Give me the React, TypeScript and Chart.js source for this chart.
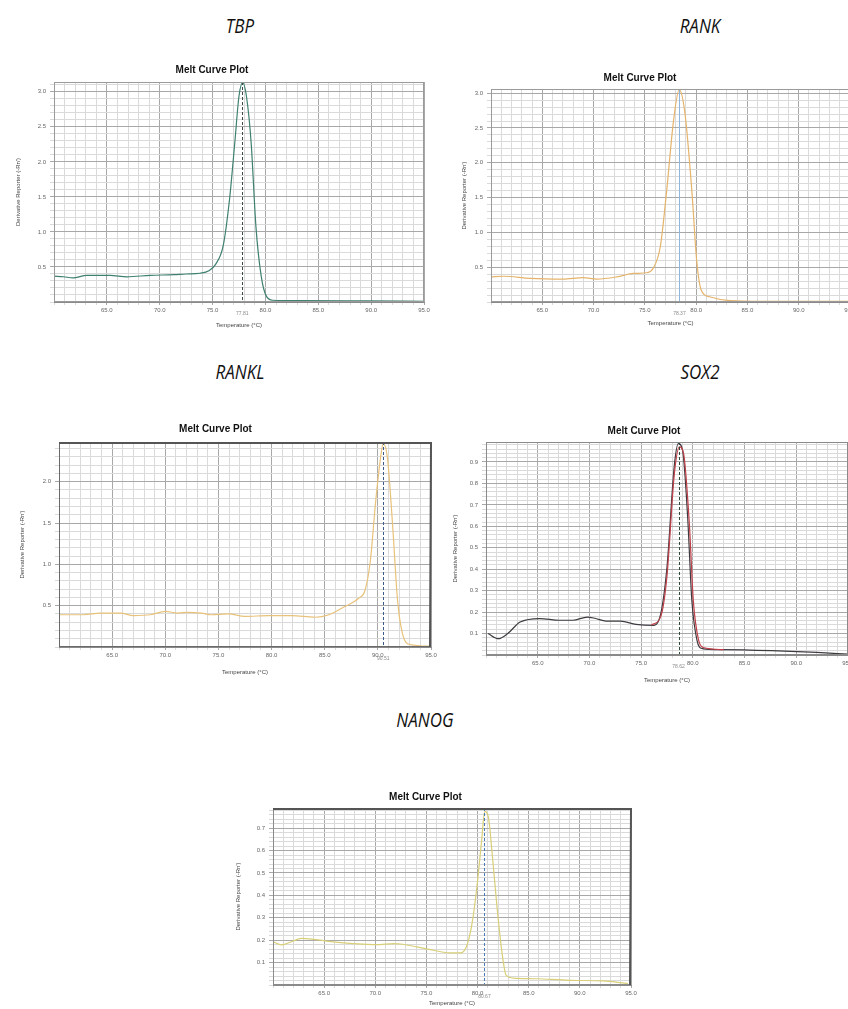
import React, { useEffect, useRef } from "react";
import { Chart, registerables } from "chart.js";

Chart.register(...registerables);

// ---------------- data ----------------
const xTickLabels = [65, 70, 75, 80, 85, 90, 95];
const derivTitle = "Derivative Reporter (-Rn')";
const tempTitle = "Temperature (°C)";

const tbpTemp = [60.0, 60.9, 61.8, 63.1, 65.3, 66.9, 69.1, 71.3, 72.5, 73.8, 74.7, 75.3, 76.0, 76.6, 77.1, 77.5, 77.85, 78.2, 78.65, 79.1, 79.6, 80.1, 80.7, 83.2, 89.5, 95.0];
const tbpDeriv = [0.37, 0.36, 0.345, 0.38, 0.38, 0.36, 0.38, 0.39, 0.40, 0.41, 0.45, 0.54, 0.80, 1.46, 2.27, 2.94, 3.13, 2.94, 2.27, 1.08, 0.37, 0.08, 0.025, 0.02, 0.015, 0.01];
const tbpYTicks = [0.5, 1.0, 1.5, 2.0, 2.5, 3.0];
const tbpTm = 77.81;

const rankTemp = [60.0, 61.2, 63.8, 67.0, 69.0, 70.3, 72.25, 73.9, 75.2, 75.8, 76.5, 77.1, 77.8, 78.35, 78.9, 79.6, 80.05, 80.5, 81.3, 83.3, 86.5, 95.0];
const rankDeriv = [0.36, 0.37, 0.34, 0.33, 0.35, 0.33, 0.36, 0.41, 0.42, 0.48, 0.79, 1.56, 2.61, 3.05, 2.72, 1.56, 0.60, 0.17, 0.076, 0.02, 0.01, 0.01];
const rankYTicks = [0.5, 1.0, 1.5, 2.0, 2.5, 3.0];
const rankTm = 78.37;

const ranklTemp = [60.0, 62.3, 63.9, 65.8, 67.0, 68.6, 70.0, 71.2, 72.1, 73.4, 74.3, 75.9, 77.5, 79.7, 81.9, 84.1, 85.4, 86.9, 88.2, 88.8, 89.3, 89.8, 90.3, 90.5, 90.9, 91.4, 91.85, 92.3, 93.0, 95.0];
const ranklDeriv = [0.39, 0.39, 0.41, 0.41, 0.38, 0.39, 0.43, 0.41, 0.42, 0.41, 0.39, 0.40, 0.37, 0.38, 0.38, 0.36, 0.39, 0.49, 0.59, 0.69, 1.05, 1.77, 2.33, 2.46, 2.29, 1.45, 0.57, 0.17, 0.03, 0.01];
const ranklYTicks = [0.5, 1.0, 1.5, 2.0];
const ranklTm = 90.51;

const sox2Temp = [60.2, 61.2, 62.1, 63.3, 65.2, 67.1, 68.4, 69.8, 70.6, 71.6, 73.0, 74.5, 76.25, 76.9, 77.5, 78.2, 78.6, 79.0, 79.5, 79.9, 80.4, 80.9, 82.8, 87.6, 92.0, 95.0];
const sox2Deriv = [0.10, 0.076, 0.10, 0.154, 0.17, 0.162, 0.162, 0.177, 0.17, 0.158, 0.158, 0.143, 0.138, 0.193, 0.41, 0.88, 0.985, 0.956, 0.64, 0.255, 0.068, 0.03, 0.025, 0.02, 0.012, 0.004];
const sox2RepTemp = [76.0, 76.9, 77.5, 78.2, 78.7, 79.1, 79.65, 80.05, 80.55, 81.0, 83.0];
const sox2RepDeriv = [0.14, 0.18, 0.37, 0.84, 0.97, 0.94, 0.62, 0.25, 0.07, 0.035, 0.025];
const sox2YTicks = [0.1, 0.2, 0.3, 0.4, 0.5, 0.6, 0.7, 0.8, 0.9];
const sox2Tm = 78.62;

const nanogTemp = [60.0, 60.85, 61.8, 62.8, 63.8, 65.25, 66.9, 68.8, 70.1, 71.8, 72.7, 74.05, 75.7, 77.3, 78.3, 78.9, 79.4, 79.9, 80.4, 80.7, 81.05, 81.4, 81.9, 82.4, 82.8, 83.5, 85.8, 89.0, 92.3, 94.7];
const nanogDeriv = [0.193, 0.179, 0.193, 0.208, 0.205, 0.196, 0.188, 0.182, 0.180, 0.185, 0.182, 0.170, 0.155, 0.143, 0.143, 0.170, 0.259, 0.423, 0.646, 0.775, 0.751, 0.60, 0.348, 0.140, 0.043, 0.031, 0.028, 0.021, 0.018, 0.006];
const nanogYTicks = [0.1, 0.2, 0.3, 0.4, 0.5, 0.6, 0.7];
const nanogTm = 80.67;

// ---------------- panel layout / styling ----------------
const panels = [
  {
    key: "TBP", name: "TBP", nameX: 240, nameY: 26,
    left: 0, top: 55, w: 454, h: 280, padRight: 30, titleTop: 9, titleBottom: 6,
    yW: 54, xH: 33, yTitlePad: 14.4, xTitlePad: 6.4,
    yMax: 3.14, yStep: 0.1, yLabels: tbpYTicks, tm: tbpTm,
    tmColor: "#3c4a48", tmDash: [3, 2], frame: "#9a9a9a", frameTop: null,
    series: [{ temp: tbpTemp, deriv: tbpDeriv, color: "#3f8070" }],
  },
  {
    key: "RANK", name: "RANK", nameX: 700, nameY: 26,
    left: 430, top: 55, w: 458, h: 280, padRight: 38, titleTop: 17, titleBottom: 5,
    yW: 61, xH: 33, yTitlePad: 30.4, xTitlePad: 8.4,
    yMax: 3.06, yStep: 0.1, yLabels: rankYTicks, tm: rankTm,
    tmColor: "#8fb6dc", tmDash: [], frame: "#9a9a9a", frameTop: null,
    series: [{ temp: rankTemp, deriv: rankDeriv, color: "#e5b46c" }],
  },
  {
    key: "RANKL", name: "RANKL", nameX: 240, nameY: 372,
    left: 0, top: 400, w: 460, h: 282, padRight: 29, titleTop: 23, titleBottom: 7,
    yW: 59, xH: 35, yTitlePad: 18.4, xTitlePad: 6.4,
    yMax: 2.48, yStep: 0.1, yLabels: ranklYTicks, tm: ranklTm,
    tmColor: "#3a5a8a", tmDash: [3, 2], frame: "#6a6a6a", frameTop: "#555555",
    series: [{ temp: ranklTemp, deriv: ranklDeriv, color: "#e8c27a" }],
  },
  {
    key: "SOX2", name: "SOX2", nameX: 700, nameY: 372,
    left: 440, top: 400, w: 430, h: 290, padRight: 22, titleTop: 25, titleBottom: 5,
    yW: 46, xH: 35, yTitlePad: 11.4, xTitlePad: 6.4,
    yMax: 0.993, yStep: 0.02, yLabels: sox2YTicks, tm: sox2Tm,
    tmColor: "#2f4a3a", tmDash: [3, 2], frame: "#8a8a8a", frameTop: null,
    series: [
      { temp: sox2RepTemp, deriv: sox2RepDeriv, color: "#c0404a" },
      { temp: sox2Temp, deriv: sox2Deriv, color: "#3e3a40" },
    ],
  },
  {
    key: "NANOG", name: "NANOG", nameX: 425, nameY: 720,
    left: 220, top: 780, w: 434, h: 229, padRight: 23, titleTop: 11, titleBottom: 5,
    yW: 53, xH: 24, yTitlePad: 14.4, xTitlePad: 2.4,
    yMax: 0.79, yStep: 0.02, yLabels: nanogYTicks, tm: nanogTm,
    tmColor: "#4a7ab8", tmDash: [3, 2], frame: "#8a8a8a", frameTop: "#555555",
    series: [{ temp: nanogTemp, deriv: nanogDeriv, color: "#d8cf78" }],
  },
];

const FONT = '"Liberation Sans", Arial, sans-serif';

const isIn = (v: number, list: number[]) => list.some((l) => Math.abs(l - v) < 1e-6);

const meltPlugin = {
  id: "melt",
  afterDatasetsDraw(chart: any, _args: any, opts: any) {
    const { ctx, chartArea: a, scales } = chart;
    const px = scales.x.getPixelForValue(opts.tm);
    ctx.save();
    // Tm marker line
    ctx.strokeStyle = opts.tmColor;
    ctx.lineWidth = 1;
    ctx.setLineDash(opts.tmDash);
    ctx.beginPath();
    ctx.moveTo(Math.round(px) + 0.5, a.top);
    ctx.lineTo(Math.round(px) + 0.5, a.bottom);
    ctx.stroke();
    ctx.setLineDash([]);
    // plot frame
    ctx.strokeStyle = opts.frame;
    ctx.strokeRect(a.left + 0.5, a.top + 0.5, a.width - 1, a.height - 1);
    if (opts.frameTop) {
      ctx.strokeStyle = opts.frameTop;
      ctx.lineWidth = 2;
      ctx.beginPath();
      ctx.moveTo(a.left, a.top + 1);
      ctx.lineTo(a.right, a.top + 1);
      ctx.lineTo(a.right - 1, a.bottom);
      ctx.stroke();
    }
    // Tm label under the axis
    ctx.fillStyle = "#8a8a8a";
    ctx.font = `5px ${FONT}`;
    ctx.textAlign = "center";
    ctx.textBaseline = "middle";
    ctx.fillText(opts.tm.toFixed(2), px, a.bottom + 12);
    ctx.restore();
  },
};

function buildConfig(p: any) {
  const datasets = p.series.map((s: any) => ({
    data: s.temp.map((t: number, i: number) => ({ x: t, y: s.deriv[i] })),
    borderColor: s.color,
    borderWidth: 1.2,
    pointRadius: 0,
    fill: false,
    cubicInterpolationMode: "monotone",
  }));
  const gridColor = (labels: number[]) => (c: any) =>
    c.tick && isIn(c.tick.value, labels) ? "#a8a8a8" : "#dadada";
  return {
    type: "line",
    data: { datasets },
    options: {
      responsive: false,
      animation: false,
      devicePixelRatio: 1,
      layout: { padding: { left: 0, right: p.padRight, top: 0, bottom: 0 } },
      plugins: {
        legend: { display: false },
        tooltip: { enabled: false },
        title: {
          display: true,
          text: "Melt Curve Plot",
          color: "#111",
          font: { family: FONT, size: 10, weight: "bold" },
          padding: { top: p.titleTop, bottom: p.titleBottom },
        },
        melt: {
          tm: p.tm, tmColor: p.tmColor, tmDash: p.tmDash, frame: p.frame, frameTop: p.frameTop,
        },
      },
      scales: {
        x: {
          type: "linear",
          min: 60,
          max: 95,
          afterFit: (s: any) => { s.height = p.xH; s.paddingLeft = 0; s.paddingRight = 0; },
          ticks: {
            stepSize: 1,
            autoSkip: false,
            maxRotation: 0,
            padding: 2,
            color: "#666",
            font: { family: FONT, size: 6 },
            callback: (v: number) => (isIn(v, xTickLabels) ? v.toFixed(1) : ""),
          },
          grid: { color: gridColor(xTickLabels), lineWidth: 1, tickLength: 3 },
          border: { color: "#8a8a8a" },
          title: {
            display: true, text: tempTitle, color: "#444",
            font: { family: FONT, size: 6 }, padding: { top: 0, bottom: p.xTitlePad },
          },
        },
        y: {
          type: "linear",
          min: 0,
          max: p.yMax,
          afterFit: (s: any) => { s.width = p.yW; s.paddingTop = 0; s.paddingBottom = 0; },
          ticks: {
            stepSize: p.yStep,
            autoSkip: false,
            includeBounds: false,
            padding: 4,
            color: "#666",
            font: { family: FONT, size: 6 },
            callback: (v: number) => (isIn(v, p.yLabels) ? v.toFixed(1) : ""),
          },
          grid: { color: gridColor(p.yLabels), lineWidth: 1, tickLength: 4 },
          border: { color: "#8a8a8a" },
          title: {
            display: true, text: derivTitle, color: "#444",
            font: { family: FONT, size: 6 }, padding: { top: p.yTitlePad, bottom: 0 },
          },
        },
      },
    },
    plugins: [meltPlugin],
  };
}

function MeltChart({ p }: { p: any }) {
  const ref = useRef<HTMLCanvasElement | null>(null);
  useEffect(() => {
    const chart = new Chart(ref.current as HTMLCanvasElement, buildConfig(p) as any);
    return () => chart.destroy();
  }, [p]);
  return (
    <canvas
      ref={ref}
      width={p.w}
      height={p.h}
      style={{ position: "absolute", left: p.left, top: p.top, width: p.w, height: p.h }}
    />
  );
}

export default function App() {
  return (
    <div
      style={{
        position: "absolute", left: 0, top: 0, width: 848, height: 1009,
        overflow: "hidden", background: "#ffffff",
      }}
    >
      {panels.map((p) => (
        <div
          key={"lbl" + p.key}
          style={{
            position: "absolute", left: p.nameX, top: p.nameY,
            transform: "translate(-50%, -50%) scaleX(0.85)",
            fontFamily: '"Open Sans", "Noto Sans", sans-serif', fontStyle: "italic",
            fontSize: 20, color: "#111", whiteSpace: "nowrap", lineHeight: 1,
          }}
        >
          {p.name}
        </div>
      ))}
      {panels.map((p) => (
        <MeltChart key={p.key} p={p} />
      ))}
    </div>
  );
}
